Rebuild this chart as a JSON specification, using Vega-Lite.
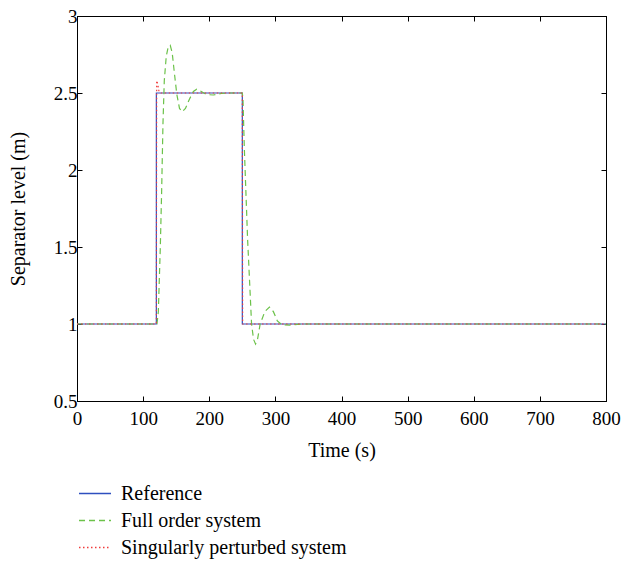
{
  "$schema": "https://vega.github.io/schema/vega-lite/v6.json",
  "width": 529,
  "height": 385,
  "autosize": {"type": "none"},
  "padding": {"left": 77, "top": 16, "right": 17, "bottom": 162},
  "background": "white",
  "config": {
    "font": "Liberation Serif",
    "view": {"stroke": "black", "strokeWidth": 1}
  },
  "datasets": {
    "curves": [
      {"t": 0, "v": 1, "s": "Reference", "o": 0},
      {"t": 120, "v": 1, "s": "Reference", "o": 1},
      {"t": 120, "v": 2.5, "s": "Reference", "o": 2},
      {"t": 250, "v": 2.5, "s": "Reference", "o": 3},
      {"t": 250, "v": 1, "s": "Reference", "o": 4},
      {"t": 800, "v": 1, "s": "Reference", "o": 5},

      {"t": 0, "v": 1, "s": "Full order system", "o": 0},
      {"t": 121, "v": 1, "s": "Full order system", "o": 1},
      {"t": 123, "v": 1.08, "s": "Full order system", "o": 2},
      {"t": 126, "v": 1.5, "s": "Full order system", "o": 3},
      {"t": 128, "v": 1.86, "s": "Full order system", "o": 4},
      {"t": 130, "v": 2.3, "s": "Full order system", "o": 5},
      {"t": 132, "v": 2.58, "s": "Full order system", "o": 6},
      {"t": 135, "v": 2.74, "s": "Full order system", "o": 7},
      {"t": 138, "v": 2.8, "s": "Full order system", "o": 8},
      {"t": 141, "v": 2.81, "s": "Full order system", "o": 9},
      {"t": 144, "v": 2.76, "s": "Full order system", "o": 10},
      {"t": 147, "v": 2.64, "s": "Full order system", "o": 11},
      {"t": 151, "v": 2.49, "s": "Full order system", "o": 12},
      {"t": 155, "v": 2.4, "s": "Full order system", "o": 13},
      {"t": 159, "v": 2.378, "s": "Full order system", "o": 14},
      {"t": 164, "v": 2.4, "s": "Full order system", "o": 15},
      {"t": 170, "v": 2.46, "s": "Full order system", "o": 16},
      {"t": 176, "v": 2.51, "s": "Full order system", "o": 17},
      {"t": 181, "v": 2.525, "s": "Full order system", "o": 18},
      {"t": 188, "v": 2.51, "s": "Full order system", "o": 19},
      {"t": 196, "v": 2.49, "s": "Full order system", "o": 20},
      {"t": 206, "v": 2.487, "s": "Full order system", "o": 21},
      {"t": 218, "v": 2.497, "s": "Full order system", "o": 22},
      {"t": 232, "v": 2.5, "s": "Full order system", "o": 23},
      {"t": 250, "v": 2.5, "s": "Full order system", "o": 24},
      {"t": 251, "v": 2.46, "s": "Full order system", "o": 25},
      {"t": 253, "v": 2.15, "s": "Full order system", "o": 26},
      {"t": 258, "v": 1.55, "s": "Full order system", "o": 27},
      {"t": 264, "v": 1.0, "s": "Full order system", "o": 28},
      {"t": 267, "v": 0.9, "s": "Full order system", "o": 29},
      {"t": 270, "v": 0.87, "s": "Full order system", "o": 30},
      {"t": 273, "v": 0.9, "s": "Full order system", "o": 31},
      {"t": 277, "v": 1.0, "s": "Full order system", "o": 32},
      {"t": 284, "v": 1.08, "s": "Full order system", "o": 33},
      {"t": 291, "v": 1.11, "s": "Full order system", "o": 34},
      {"t": 297, "v": 1.08, "s": "Full order system", "o": 35},
      {"t": 303, "v": 1.02, "s": "Full order system", "o": 36},
      {"t": 310, "v": 0.995, "s": "Full order system", "o": 37},
      {"t": 322, "v": 0.993, "s": "Full order system", "o": 38},
      {"t": 340, "v": 1.0, "s": "Full order system", "o": 39},
      {"t": 800, "v": 1, "s": "Full order system", "o": 40},

      {"t": 0, "v": 1, "s": "Singularly perturbed system", "o": 0},
      {"t": 120, "v": 1, "s": "Singularly perturbed system", "o": 1},
      {"t": 120.5, "v": 2.58, "s": "Singularly perturbed system", "o": 2},
      {"t": 122, "v": 2.56, "s": "Singularly perturbed system", "o": 3},
      {"t": 124, "v": 2.51, "s": "Singularly perturbed system", "o": 4},
      {"t": 127, "v": 2.5, "s": "Singularly perturbed system", "o": 5},
      {"t": 250, "v": 2.5, "s": "Singularly perturbed system", "o": 6},
      {"t": 250.5, "v": 1, "s": "Singularly perturbed system", "o": 7},
      {"t": 800, "v": 1, "s": "Singularly perturbed system", "o": 8}
    ]
  },
  "data": {"name": "curves"},
  "resolve": {"axis": {"x": "independent", "y": "independent"}},
  "layer": [
    {
      "mark": {"type": "line", "strokeWidth": 1.2, "clip": true},
      "encoding": {
        "x": {
          "field": "t", "type": "quantitative",
          "scale": {"domain": [0, 800], "nice": false, "zero": false},
          "axis": {"title": "Time (s)", "grid": false, "values": [0, 100, 200, 300, 400, 500, 600, 700, 800], "tickSize": -5, "labelPadding": 13, "titlePadding": 12, "labelFlush": false, "labelFontSize": 19, "titleFontSize": 20, "labelFont": "Liberation Serif", "titleFont": "Liberation Serif", "titleFontWeight": "normal", "labelColor": "black", "titleColor": "black", "domainColor": "black", "tickColor": "black"}
        },
        "y": {
          "field": "v", "type": "quantitative",
          "scale": {"domain": [0.5, 3], "nice": false, "zero": false},
          "axis": {"title": "Separator level (m)", "grid": false, "values": [0.5, 1, 1.5, 2, 2.5, 3], "format": "~g", "tickSize": -5, "labelPadding": 5, "titlePadding": 25, "labelFlush": false, "labelFontSize": 19, "titleFontSize": 20, "labelFont": "Liberation Serif", "titleFont": "Liberation Serif", "titleFontWeight": "normal", "labelColor": "black", "titleColor": "black", "domainColor": "black", "tickColor": "black"}
        },
        "order": {"field": "o", "type": "quantitative"},
        "color": {
          "field": "s", "type": "nominal",
          "scale": {"domain": ["Reference", "Full order system", "Singularly perturbed system"], "range": ["#2e4fbf", "#6cc24a", "#f03c3c"]},
          "legend": {
            "title": null, "orient": "none", "legendX": 1, "legendY": 464, "direction": "vertical",
            "symbolType": "stroke", "symbolSize": 1024, "symbolStrokeWidth": 1.3,
            "labelFont": "Liberation Serif", "labelFontSize": 20, "labelColor": "black", "labelLimit": 400,
            "labelOffset": 9, "rowPadding": 0, "clipHeight": 27
          }
        },
        "strokeDash": {
          "field": "s", "type": "nominal",
          "scale": {"domain": ["Reference", "Full order system", "Singularly perturbed system"], "range": [[1, 0], [6, 4], [1.5, 2.5]]},
          "legend": null
        }
      }
    },
    {
      "mark": {"type": "point", "opacity": 0},
      "encoding": {
        "x": {
          "field": "t", "type": "quantitative",
          "axis": {"orient": "top", "grid": false, "values": [0, 100, 200, 300, 400, 500, 600, 700, 800], "labels": false, "title": null, "tickSize": -5, "domainColor": "black", "tickColor": "black"}
        },
        "y": {
          "field": "v", "type": "quantitative",
          "axis": {"orient": "right", "grid": false, "values": [0.5, 1, 1.5, 2, 2.5, 3], "labels": false, "title": null, "tickSize": -5, "domainColor": "black", "tickColor": "black"}
        }
      }
    }
  ]
}
